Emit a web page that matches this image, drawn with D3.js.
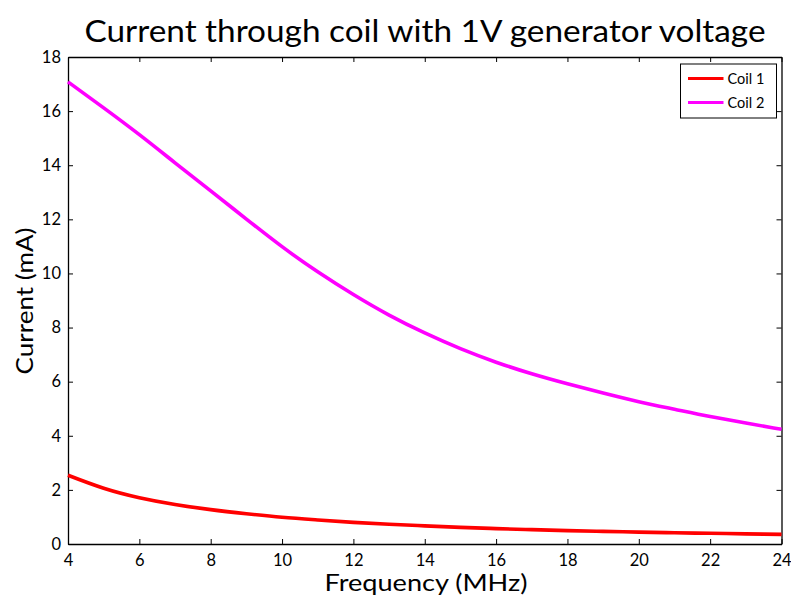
<!DOCTYPE html>
<html>
<head>
<meta charset="utf-8">
<script src="https://cdn.jsdelivr.net/npm/d3@7"></script>
<style>
  html, body { margin: 0; padding: 0; background: #fff; }
  svg { display: block; }
  text { font-family: Lato, "Open Sans", sans-serif; fill: #000; }
</style>
</head>
<body>
<svg id="chart" width="791" height="595"></svg>
<script>
// Frequency sweep (MHz) and coil currents (mA) for a 1 V generator
const frequency = [4, 5, 6, 7, 8, 9, 10, 11, 12, 13, 14, 15, 16, 17, 18, 19, 20, 21, 22, 23, 24];
const coil1 = [2.54, 2.06, 1.71, 1.46, 1.27, 1.12, 0.99, 0.89, 0.80, 0.73, 0.67, 0.615, 0.57, 0.53, 0.495, 0.465, 0.44, 0.415, 0.395, 0.375, 0.355];
const coil2 = [17.08, 16.12, 15.13, 14.09, 13.05, 12.01, 10.99, 10.06, 9.22, 8.46, 7.80, 7.22, 6.72, 6.29, 5.92, 5.58, 5.26, 4.98, 4.71, 4.47, 4.24];
const seriesNames = ["Coil 1", "Coil 2"];
const seriesColors = ["#ff0000", "#ff00ff"];
const xTicks = [4, 6, 8, 10, 12, 14, 16, 18, 20, 22, 24];
const yTicks = [0, 2, 4, 6, 8, 10, 12, 14, 16, 18];

const svg = d3.select("#chart");
const plot = { left: 68, right: 781.5, top: 57, bottom: 544 };

const x = d3.scaleLinear().domain([4, 24]).range([plot.left, plot.right]);
const y = d3.scaleLinear().domain([0, 18]).range([plot.bottom, plot.top]);

// Axes with inward ticks, box on all four sides
const tickLen = 5;
const axisStyle = g => {
  g.selectAll(".domain").attr("stroke", "#000").attr("stroke-width", 1.3);
  g.selectAll(".tick line").attr("stroke", "#000").attr("stroke-width", 1);
};

svg.append("g")
  .attr("transform", `translate(0,${plot.bottom})`)
  .call(d3.axisBottom(x).tickValues(xTicks).tickSizeInner(-tickLen).tickSizeOuter(0).tickPadding(10))
  .call(axisStyle)
  .call(g => g.selectAll(".tick text").attr("font-size", 16.5).attr("font-family", "Lato, sans-serif"));

svg.append("g")
  .attr("transform", `translate(${plot.left},0)`)
  .call(d3.axisLeft(y).tickValues(yTicks).tickSizeInner(-tickLen).tickSizeOuter(0).tickPadding(7))
  .call(axisStyle)
  .call(g => g.selectAll(".tick text").attr("font-size", 16.5).attr("font-family", "Lato, sans-serif"));

svg.append("g")
  .attr("transform", `translate(0,${plot.top})`)
  .call(d3.axisTop(x).tickValues(xTicks).tickSizeInner(-tickLen).tickSizeOuter(0).tickFormat(""))
  .call(axisStyle);

svg.append("g")
  .attr("transform", `translate(${plot.right},0)`)
  .call(d3.axisRight(y).tickValues(yTicks).tickSizeInner(-tickLen).tickSizeOuter(0).tickFormat(""))
  .call(axisStyle);

// Curves
const line = d3.line().x(d => x(d[0])).y(d => y(d[1])).curve(d3.curveNatural);
[coil1, coil2].forEach((vals, i) => {
  svg.append("path")
    .datum(frequency.map((f, j) => [f, vals[j]]))
    .attr("fill", "none")
    .attr("stroke", seriesColors[i])
    .attr("stroke-width", 3.6)
    .attr("stroke-linejoin", "round")
    .attr("d", line);
});

// Legend
const legend = svg.append("g");
legend.append("rect")
  .attr("x", 680.5).attr("y", 64).attr("width", 96).attr("height", 54)
  .attr("fill", "#fff").attr("stroke", "#000").attr("stroke-width", 1);
seriesNames.forEach((name, i) => {
  const ly = 78.5 + i * 24;
  legend.append("line")
    .attr("x1", 688).attr("x2", 723.5).attr("y1", ly).attr("y2", ly)
    .attr("stroke", seriesColors[i]).attr("stroke-width", 3.2);
  legend.append("text")
    .attr("x", 727.5).attr("y", ly + 5)
    .attr("font-size", 14.5)
    .text(name);
});

// Title and axis labels
svg.append("text")
  .attr("x", 425).attr("y", 42)
  .attr("text-anchor", "middle")
  .attr("font-size", 30)
  .attr("textLength", 681).attr("lengthAdjust", "spacingAndGlyphs")
  .text("Current through coil with 1V generator voltage");

svg.append("text")
  .attr("x", 426).attr("y", 591)
  .attr("text-anchor", "middle")
  .attr("font-size", 23)
  .attr("textLength", 203).attr("lengthAdjust", "spacingAndGlyphs")
  .text("Frequency (MHz)");

svg.append("text")
  .attr("transform", "translate(33,301) rotate(-90)")
  .attr("text-anchor", "middle")
  .attr("font-size", 24)
  .attr("textLength", 147).attr("lengthAdjust", "spacingAndGlyphs")
  .text("Current (mA)");
</script>
</body>
</html>
